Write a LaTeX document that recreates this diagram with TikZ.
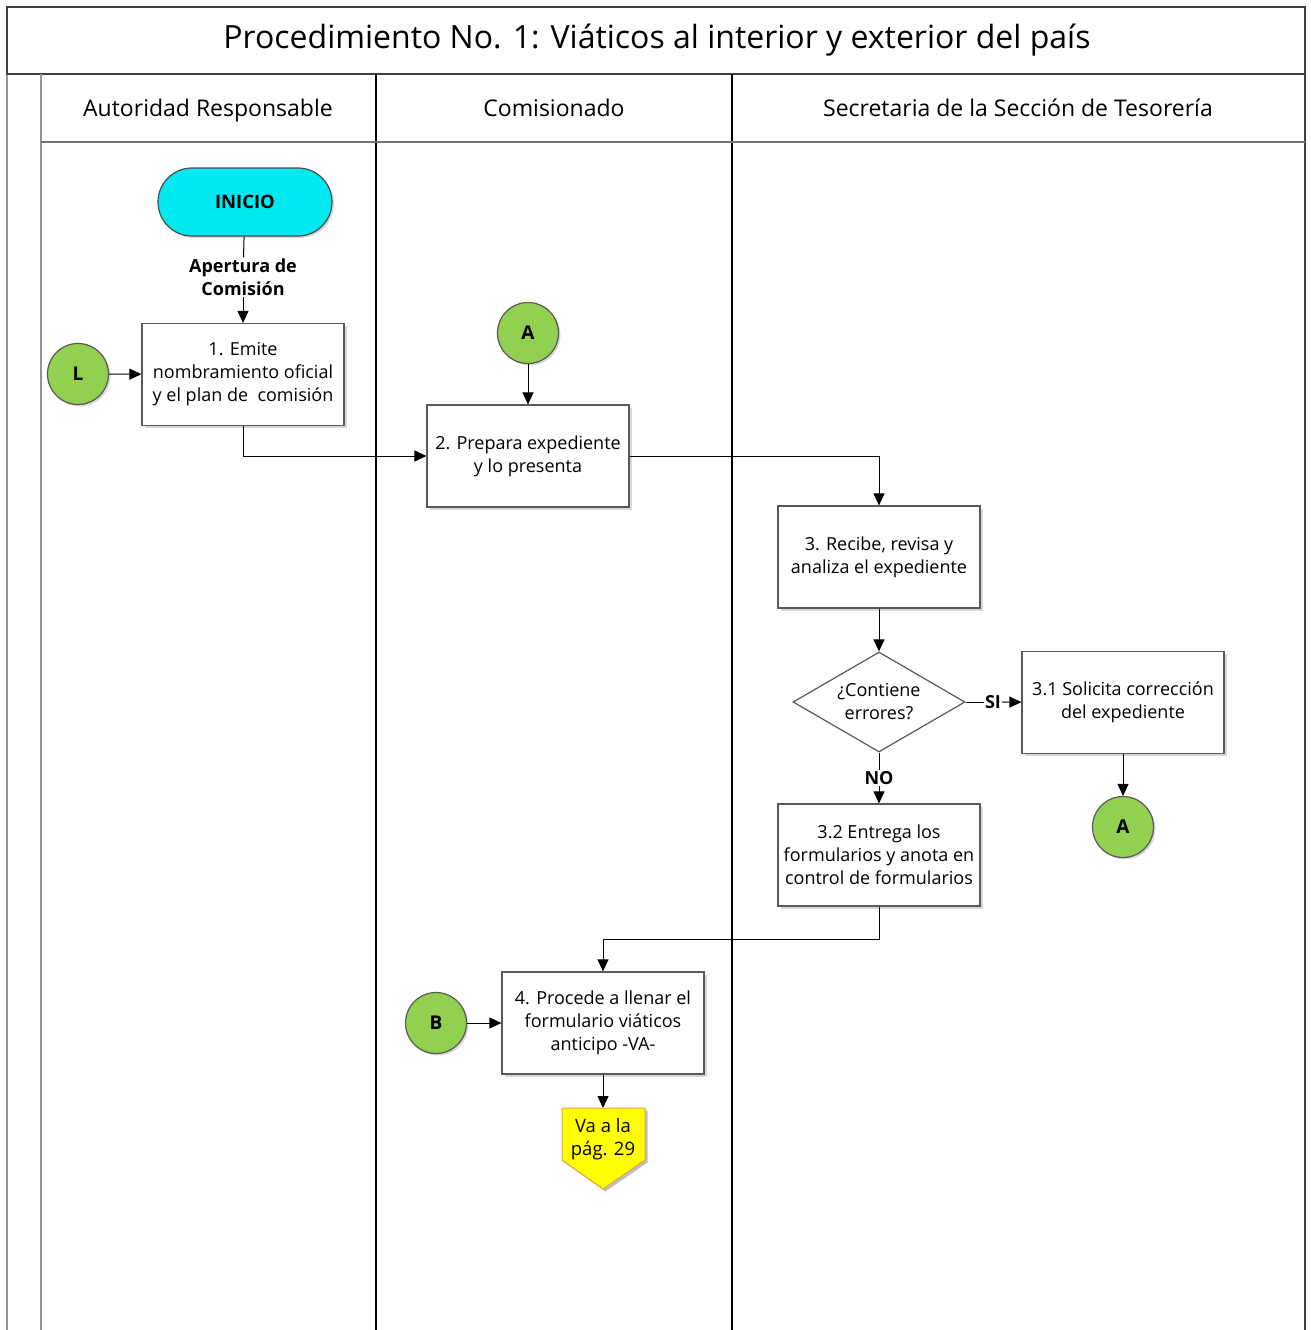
\documentclass[tikz,border=0pt]{standalone}
\usepackage{fontspec}
\setmainfont{Open Sans}
\usetikzlibrary{arrows.meta,shapes.geometric,shapes.misc,shadows}

\definecolor{startcyan}{HTML}{00E8F0}
\definecolor{connGreen}{HTML}{92D050}
\definecolor{pageYellow}{HTML}{FFFF00}
\definecolor{pageEdge}{HTML}{E8A33A}
\definecolor{laneGray}{HTML}{8A9A96}

\begin{document}
\begin{tikzpicture}[x=1pt,y=-1pt,
  >={Triangle[length=12pt,width=11pt]},
  flow/.style={line width=1pt, draw=black},
  stepbox/.style={draw=black!65, line width=1.2pt, fill=white,
    minimum width=202pt, minimum height=102pt, inner sep=2pt, align=center,
    font=\fontsize{18pt}{23pt}\selectfont,
    drop shadow={shadow xshift=2.5pt, shadow yshift=-2.5pt, fill=black!30}},
  conn/.style={circle, draw=black!65, line width=1.2pt, fill=connGreen,
    minimum size=61pt, inner sep=0pt, font=\fontsize{19pt}{22pt}\selectfont\bfseries,
    drop shadow={shadow xshift=2pt, shadow yshift=-2pt, fill=black!30}},
  decision/.style={diamond, draw=black!65, line width=1.2pt, fill=white,
    minimum width=172pt, minimum height=100pt, inner sep=0pt, aspect=1.72,
    align=center, font=\fontsize{18pt}{23pt}\selectfont},
  flowlabel/.style={font=\fontsize{18pt}{23pt}\selectfont\bfseries, align=center, inner sep=1pt},
  header/.style={font=\fontsize{23pt}{27pt}\selectfont, anchor=base}
]
\useasboundingbox (0,0) rectangle (1311,1330);

% swimlane frame
\draw[laneGray, line width=1.5pt] (7,74) -- (7,1330);
\draw[black!75, line width=1.5pt] (7,7) rectangle (1305,74);
\draw[black!75, line width=1.5pt] (1305,74) -- (1305,1330);
\draw[laneGray, line width=1.5pt] (41,74) -- (41,1330);
\draw[black, line width=1.5pt] (376,74) -- (376,1330);
\draw[black, line width=1.5pt] (732,74) -- (732,1330);
\draw[black!55, line width=1.2pt] (41,142) -- (1305,142);

\node[font=\fontsize{32pt}{38pt}\selectfont] (title) at (657,40)
  {Procedimiento No. 1: Viáticos al interior y exterior del país};
\node[header] (lane1) at (208,116) {Autoridad Responsable};
\node[header] (lane2) at (554,116) {Comisionado};
\node[header] (lane3) at (1018,116) {Secretaria de la Sección de Tesorería};

% start
\node[rounded rectangle, draw=black!70, line width=1.2pt, fill=startcyan,
  minimum width=174pt, minimum height=68pt, inner sep=0pt,
  font=\fontsize{18.5pt}{21pt}\selectfont\bfseries,
  drop shadow={shadow xshift=2pt, shadow yshift=-2pt, fill=black!30}]
  (inicio) at (245,202) {INICIO};
\node[flowlabel] (apert) at (243,277) {Apertura de\\Comisión};

% process steps
\node[stepbox] (s1) at (243,374.5) {1. Emite\\nombramiento oficial\\y el plan de~ comisión};
\node[stepbox] (s2) at (528,456) {2. Prepara expediente\\y lo presenta};
\node[stepbox] (s3) at (879,557) {3. Recibe, revisa y\\analiza el expediente};
\node[decision] (d1) at (879,702) {¿Contiene\\errores?};
\node[stepbox] (s31) at (1123,702.5) {3.1 Solicita corrección\\del expediente};
\node[stepbox] (s32) at (879,855) {3.2 Entrega los\\formularios y anota en\\control de formularios};
\node[stepbox] (s4) at (603,1023) {4. Procede a llenar el\\formulario viáticos\\anticipo -VA-};
\node[flowlabel] (si) at (993,702) {SI};
\node[flowlabel] (no) at (879,778) {NO};

% connectors
\node[conn] (cL) at (78,374) {L};
\node[conn] (cA1) at (528,333) {A};
\node[conn] (cA2) at (1123,827) {A};
\node[conn] (cB) at (436,1023) {B};

% off-page reference
\coordinate (pg) at (603,1108);
\fill[black!25] (564.5,1110.5) -- (647.5,1110.5) -- (647.5,1162.5) -- (605.5,1191.5) -- (564.5,1162.5) -- cycle;
\draw[pageEdge, line width=1pt, fill=pageYellow] (562,1108) -- (645,1108) -- (645,1160) -- (603,1189) -- (562,1160) -- cycle;
\node[align=center, font=\fontsize{18.5pt}{23pt}\selectfont] (goto) at (603,1139) {Va a la\\pág. 29};

% flow lines
\draw[flow] (inicio) -- (apert);
\draw[flow,->] (apert) -- (s1);
\draw[flow,->] (cL) -- (s1);
\draw[flow,->] (cA1) -- (s2);
\draw[flow,->] (s1.south) |- (s2.west);
\draw[flow,->] (s2.east) -| (s3.north);
\draw[flow,->] (s3) -- (d1);
\draw[flow] (d1.east) -- (si);
\draw[flow,->] (si) -- (s31);
\draw[flow] (d1.south) -- (no);
\draw[flow,->] (no) -- (s32);
\draw[flow,->] (s31) -- (cA2);
\draw[flow,->] (s32.south) -- ++(0,33) -| (s4.north);
\draw[flow,->] (cB) -- (s4);
\draw[flow,->] (s4) -- (pg);
\end{tikzpicture}
\end{document}
